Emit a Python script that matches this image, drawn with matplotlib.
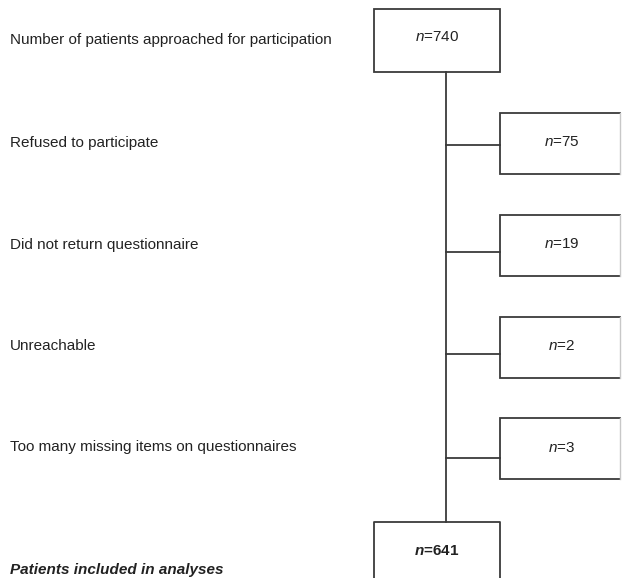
import matplotlib.pyplot as plt
from matplotlib.patches import Rectangle

# Flow diagram data
top_label = 'Number of patients approached for participation'
top_n = 740
excl_labels = ['Refused to participate',
               'Did not return questionnaire',
               'Unreachable',
               'Too many missing items on questionnaires']
excl_n = [75, 19, 2, 3]
final_label = 'Patients included in analyses'
final_n = 641

# Layout (pixels, y downwards)
W, H = 622, 578
excl_box_top = [113, 215, 317, 418]
excl_join = [145, 252, 354, 458]
box_h = 61
main_x0, main_x1 = 374, 500
side_x1 = 620
spine_x = 446
line_col = '#3a3a3a'
txt_col = '#222222'

plt.rcParams['font.family'] = ['Liberation Sans', 'DejaVu Sans']
plt.rcParams['mathtext.fontset'] = 'custom'
plt.rcParams['mathtext.rm'] = 'Liberation Sans'
plt.rcParams['mathtext.it'] = 'Liberation Sans:italic'
plt.rcParams['mathtext.bf'] = 'Liberation Sans:bold'
plt.rcParams['mathtext.bfit'] = 'Liberation Sans:italic:bold'

fig = plt.figure(figsize=(W / 100, H / 100), dpi=100)
ax = fig.add_axes([0, 0, 1, 1])
ax.set_xlim(0, W)
ax.set_ylim(H, 0)
ax.axis('off')

fs = 11

# top box
ax.add_patch(Rectangle((main_x0, 9), main_x1 - main_x0, 63, fill=False,
                       edgecolor=line_col, lw=1.3))
ax.text((main_x0 + main_x1) / 2, 37, f'$\\mathit{{n}}$={top_n}', ha='center', va='center',
        fontsize=fs, color=txt_col)
ax.text(10, 40, top_label, ha='left', va='center', fontsize=fs, color=txt_col)

# vertical spine
ax.plot([spine_x, spine_x], [72, 522], color=line_col, lw=1.3)

for lab, n, top, jy in zip(excl_labels, excl_n, excl_box_top, excl_join):
    ax.plot([spine_x, main_x1], [jy, jy], color=line_col, lw=1.3)
    ax.plot([side_x1, main_x1, main_x1, side_x1], [top, top, top + box_h, top + box_h],
            color=line_col, lw=1.3, solid_joinstyle='miter')
    ax.plot([side_x1, side_x1], [top, top + box_h], color='#c8c8c8', lw=1.0)
    ax.text((main_x1 + side_x1) / 2 + 2, top + box_h / 2 - 1, f'$\\mathit{{n}}$={n}',
            ha='center', va='center', fontsize=fs, color=txt_col)
    ax.text(10, top + box_h / 2 - 1, lab, ha='left', va='center', fontsize=fs, color=txt_col)

# final box (cut at the bottom)
ax.plot([main_x0, main_x0, main_x1, main_x1], [H + 5, 522, 522, H + 5],
        color=line_col, lw=1.3)
ax.text((main_x0 + main_x1) / 2, 551, f'$\\mathbfit{{n}}$={final_n}', ha='center',
        va='center', fontsize=fs, color=txt_col, fontweight='bold')
ax.text(10, 570, final_label, ha='left', va='center', fontsize=fs, color=txt_col,
        fontweight='bold', style='italic')

fig.savefig('out.png', dpi=100, facecolor='white')
